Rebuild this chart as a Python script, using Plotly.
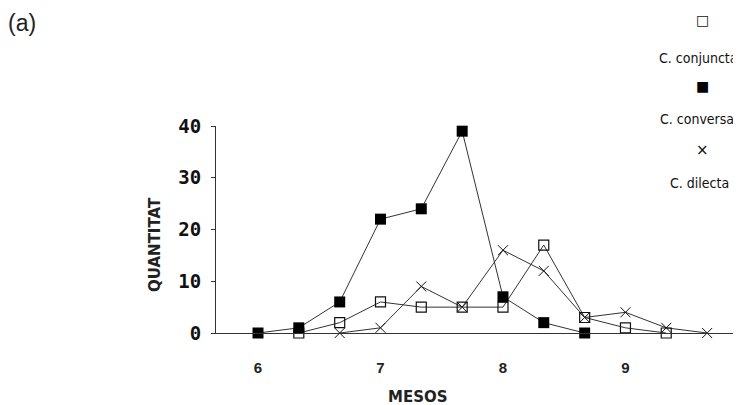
import plotly.graph_objects as go

# Data (months, quantities)
x_conjuncta = [6.333, 6.667, 7.0, 7.333, 7.667, 8.0, 8.333, 8.667, 9.0, 9.333]
y_conjuncta = [0, 2, 6, 5, 5, 5, 17, 3, 1, 0]

x_conversa = [6.0, 6.333, 6.667, 7.0, 7.333, 7.667, 8.0, 8.333, 8.667]
y_conversa = [0, 1, 6, 22, 24, 39, 7, 2, 0]

x_dilecta = [6.667, 7.0, 7.333, 7.667, 8.0, 8.333, 8.667, 9.0, 9.333, 9.667]
y_dilecta = [0, 1, 9, 5, 16, 12, 3, 4, 1, 0]

x_ticks = [6, 7, 8, 9]
y_ticks = [0, 10, 20, 30, 40]

legend_names = ["C. conjuncta", "C. conversa", "C. dilecta"]

line_style = dict(color="#333333", width=1)

fig = go.Figure()
fig.add_trace(go.Scatter(
    x=x_dilecta, y=y_dilecta, mode="lines+markers", name=legend_names[2],
    line=line_style,
    marker=dict(symbol="x-thin-open", size=10, color="#111111",
                line=dict(color="#111111", width=1)),
    cliponaxis=False, showlegend=False))
fig.add_trace(go.Scatter(
    x=x_conjuncta, y=y_conjuncta, mode="lines+markers", name=legend_names[0],
    line=line_style,
    marker=dict(symbol="square-open", size=10, color="#111111",
                line=dict(color="#111111", width=1.2)),
    cliponaxis=False, showlegend=False))
fig.add_trace(go.Scatter(
    x=x_conversa, y=y_conversa, mode="lines+markers", name=legend_names[1],
    line=line_style,
    marker=dict(symbol="square", size=11, color="#000000",
                line=dict(color="#000000", width=0)),
    cliponaxis=False, showlegend=False))

OFF = 8  # browser default body margin
W, H = 741 - OFF, 405 - OFF
L, T = 216 - OFF, 126 - OFF
R = W - (739 - OFF)
B = H - (333 - OFF)
pw, ph = W - L - R, H - T - B


def px(xp):
    return (xp - OFF - L) / pw


def py(yp):
    return (H - B - (yp - OFF)) / ph


leg_font = dict(family="DejaVu Sans Condensed, Liberation Sans Narrow, Roboto Condensed, DejaVu Sans Mono",
                size=14, color="#111111")

annotations = [
    dict(text="MESOS", x=px(418), y=py(397),
         font=dict(family="DejaVu Sans", size=15, color="#222222", weight="bold")),
    dict(text="QUANTITAT", x=px(155), y=py(245), textangle=-90,
         font=dict(family="DejaVu Sans", size=15, color="#222222", weight=600)),
    dict(text="(a)", x=px(22), y=py(23),
         font=dict(family="Liberation Sans", size=23, color="#222222")),
    dict(text="□", x=px(702), y=py(20),
         font=dict(family="DejaVu Sans", size=14, color="#111111")),
    dict(text=legend_names[0], x=px(698), y=py(58), font=leg_font),
    dict(text="■", x=px(702), y=py(86),
         font=dict(family="DejaVu Sans", size=14, color="#000000")),
    dict(text=legend_names[1], x=px(697), y=py(119), font=leg_font),
    dict(text="×", x=px(702), y=py(150),
         font=dict(family="DejaVu Sans", size=15, color="#111111")),
    dict(text=legend_names[2], x=px(699), y=py(183), font=leg_font),
]
for a in annotations:
    a.update(xref="paper", yref="paper", showarrow=False,
             xanchor="center", yanchor="middle")

fig.update_layout(
    width=W, height=H,
    margin=dict(l=L, r=R, t=T, b=B, pad=0),
    paper_bgcolor="white", plot_bgcolor="white",
    annotations=annotations,
    xaxis=dict(range=[5.657, 9.927], tickvals=x_ticks,
               ticktext=[str(v) for v in x_ticks],
               showgrid=False, zeroline=False, showline=True,
               linecolor="#333333", linewidth=1, ticks="",
               ticklabelstandoff=21,
               tickfont=dict(family="Liberation Sans", size=15, color="#222222",
                             weight="bold")),
    yaxis=dict(range=[0, 40], tickvals=y_ticks,
               ticktext=[str(v) for v in y_ticks],
               showgrid=False, zeroline=False, showline=True,
               linecolor="#333333", linewidth=1, ticks="outside",
               ticklen=4, tickcolor="#333333", ticklabelstandoff=6,
               tickfont=dict(family="DejaVu Sans Mono", size=19, color="#111111",
                             weight="bold")),
)

fig.write_html("out.html")
